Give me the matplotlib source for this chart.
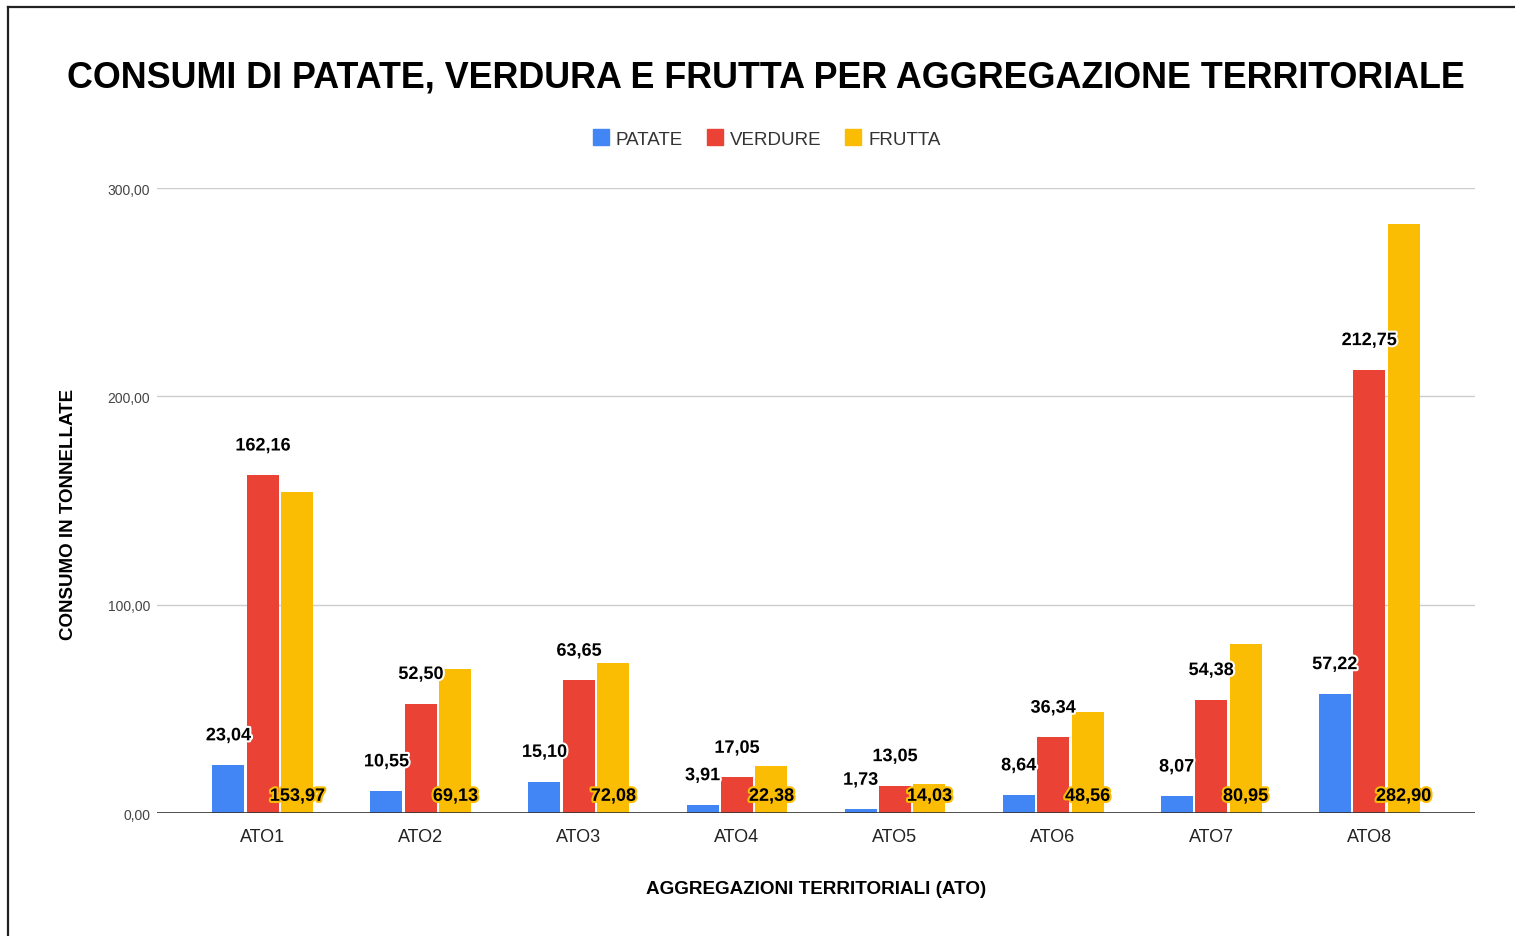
import numpy as np
import matplotlib.pyplot as plt
import matplotlib.patheffects as pe
from matplotlib.ticker import FuncFormatter
from matplotlib.lines import Line2D

ato = ['ATO1', 'ATO2', 'ATO3', 'ATO4', 'ATO5', 'ATO6', 'ATO7', 'ATO8']
patate = [23.04, 10.55, 15.10, 3.91, 1.73, 8.64, 8.07, 57.22]
verdure = [162.16, 52.50, 63.65, 17.05, 13.05, 36.34, 54.38, 212.75]
frutta = [153.97, 69.13, 72.08, 22.38, 14.03, 48.56, 80.95, 282.90]

plt.rcParams['font.family'] = ['Liberation Sans', 'DejaVu Sans']

BLUE = '#4285F4'
RED = '#EA4335'
YELLOW = '#FBBC04'


def fmt(v):
    return ('%.2f' % v).replace('.', ',')


fig = plt.figure(figsize=(15.15, 9.37), dpi=100)
ax = fig.add_axes([157 / 1515, 1 - 814 / 937, (1475 - 157) / 1515, (814 - 189) / 937])

x = np.arange(len(ato))
w = 0.2025
step = 0.218
series = [('PATATE', patate, BLUE), ('VERDURE', verdure, RED), ('FRUTTA', frutta, YELLOW)]

for i, (name, vals, col) in enumerate(series):
    xs = x + (i - 1) * step
    ax.bar(xs, vals, w, color=col, zorder=3, label=name)
    for xi, v in zip(xs, vals):
        if name == 'FRUTTA':
            # fruit labels sit at the base of the bar, like in the sheet
            ax.annotate(fmt(v), (xi, 0), xytext=(0, 12), textcoords='offset points',
                        ha='center', va='center', fontsize=13, fontweight='bold',
                        color='black', zorder=5,
                        path_effects=[pe.withStroke(linewidth=3, foreground=YELLOW)])
        else:
            ax.annotate(fmt(v), (xi, v), xytext=(0, 21), textcoords='offset points',
                        ha='center', va='center', fontsize=13, fontweight='bold',
                        color='black', zorder=5,
                        path_effects=[pe.withStroke(linewidth=3, foreground='white')])

ax.set_xlim(-0.67, 7.67)
ax.set_ylim(0, 300)
ax.set_yticks([0, 100, 200, 300])
ax.yaxis.set_major_formatter(FuncFormatter(lambda v, p: fmt(v)))
ax.set_xticks(x)
ax.set_xticklabels(ato)
ax.tick_params(axis='y', length=0, pad=5, labelsize=10, labelcolor='#444444')
ax.tick_params(axis='x', length=0, pad=11, labelsize=13, labelcolor='#222222')
ax.grid(axis='y', color='#cccccc', linewidth=1, zorder=0)
for s in ax.spines.values():
    s.set_visible(False)
ax.axhline(0, color='#333333', linewidth=1.2, zorder=4)

ax.set_ylabel('CONSUMO IN TONNELLATE', fontsize=13.5, fontweight='bold')
ax.yaxis.set_label_coords(-0.0605, 0.48)
ax.set_xlabel('AGGREGAZIONI TERRITORIALI (ATO)', fontsize=13.6, fontweight='bold', labelpad=25)

fig.text(766 / 1515, 1 - 78 / 937,
         'CONSUMI DI PATATE, VERDURA E FRUTTA PER AGGREGAZIONE TERRITORIALE',
         ha='center', va='center', fontsize=25.8, fontweight='bold', color='black')

handles = [Line2D([], [], marker='s', linestyle='', markersize=11, color=c) for _, _, c in series]
fig.legend(handles, [n for n, _, _ in series], loc='center', ncol=3,
           bbox_to_anchor=(766 / 1515, 1 - 140 / 937), frameon=False,
           fontsize=13.5, labelcolor='#333333', handletextpad=0.3, columnspacing=1.2,
           handlelength=1.0)

# border of the original page
fig.add_artist(Line2D([8 / 1515, 8 / 1515], [0, 1 - 8 / 937], color='#222222', linewidth=1.6))
fig.add_artist(Line2D([8 / 1515, 1], [1 - 8 / 937, 1 - 8 / 937], color='#222222', linewidth=1.6))

fig.savefig('out.png', dpi=100)
